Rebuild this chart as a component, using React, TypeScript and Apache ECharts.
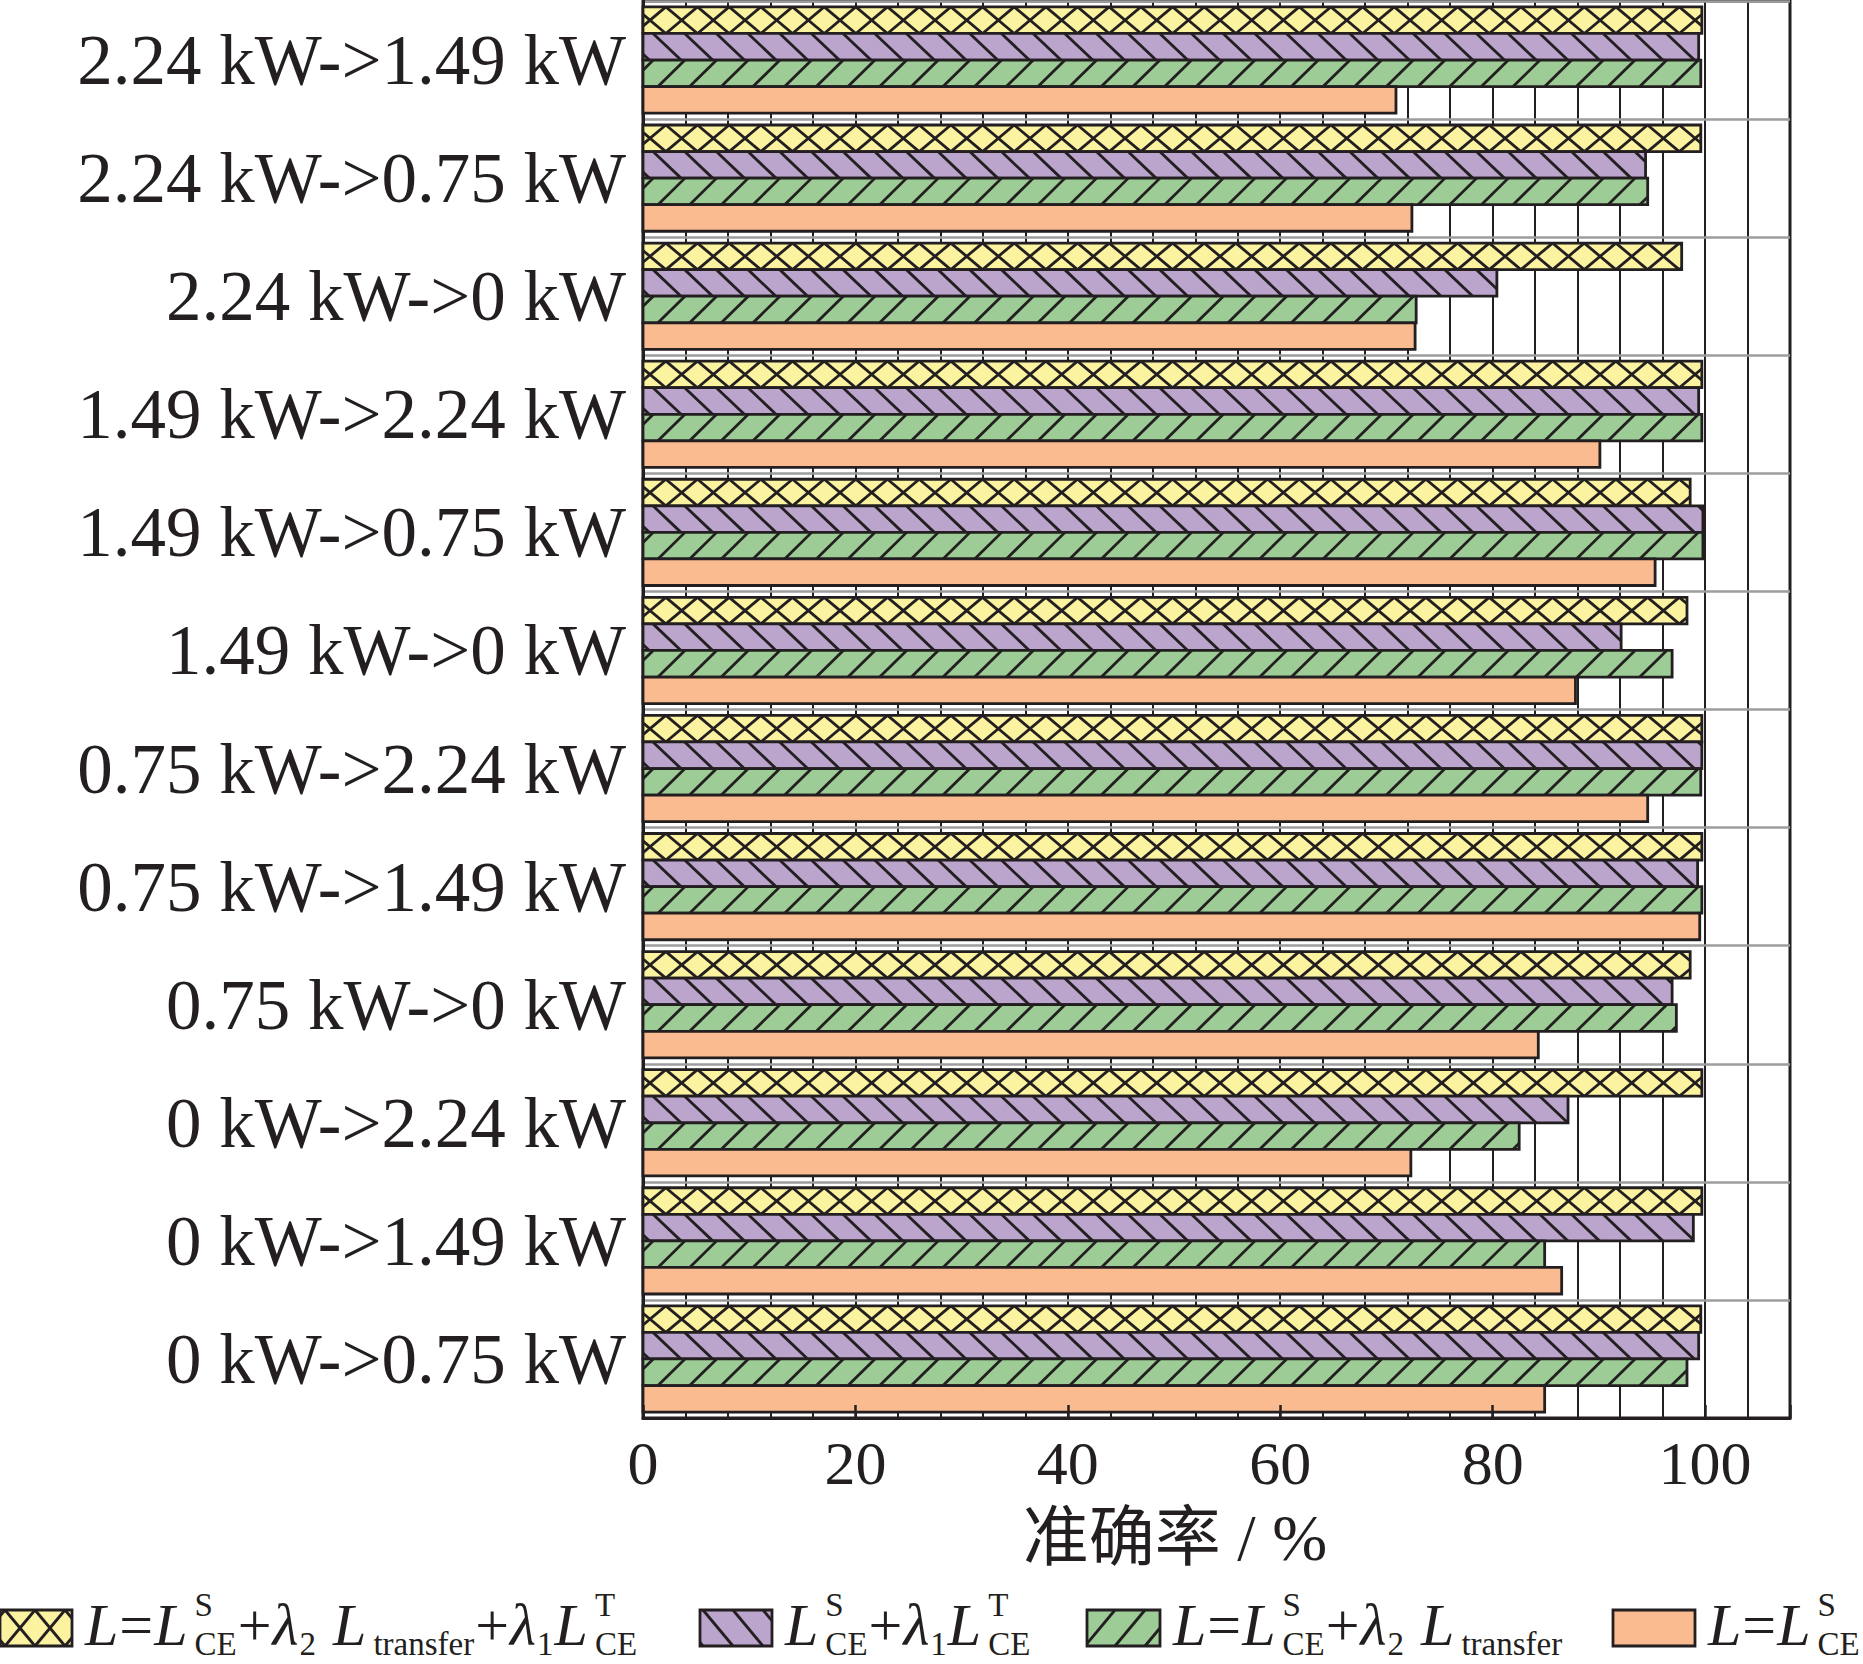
import React, { useEffect, useRef } from 'react';
import * as echarts from 'echarts';

// ---------------- data ----------------
const categories = [
  '2.24 kW->1.49 kW',
  '2.24 kW->0.75 kW',
  '2.24 kW->0 kW',
  '1.49 kW->2.24 kW',
  '1.49 kW->0.75 kW',
  '1.49 kW->0 kW',
  '0.75 kW->2.24 kW',
  '0.75 kW->1.49 kW',
  '0.75 kW->0 kW',
  '0 kW->2.24 kW',
  '0 kW->1.49 kW',
  '0 kW->0.75 kW',
];

// L = L^S_CE + λ2 L_transfer + λ1 L^T_CE
const fullLoss = [99.7, 99.6, 97.8, 99.7, 98.6, 98.3, 99.7, 99.7, 98.6, 99.7, 99.7, 99.6];
// L^S_CE + λ1 L^T_CE
const noTransfer = [99.4, 94.4, 80.4, 99.4, 99.8, 92.1, 99.7, 99.3, 96.9, 87.1, 98.9, 99.4];
// L = L^S_CE + λ2 L_transfer
const noTargetCE = [99.6, 94.6, 72.8, 99.7, 99.8, 96.9, 99.6, 99.7, 97.3, 82.5, 84.9, 98.3];
// L = L^S_CE
const sourceOnly = [70.9, 72.4, 72.7, 90.1, 95.3, 87.8, 94.6, 99.5, 84.3, 72.3, 86.5, 84.9];

const seriesNames = [
  'L=L^S_CE+λ2 L_transfer+λ1 L^T_CE',
  'L^S_CE+λ1 L^T_CE',
  'L=L^S_CE+λ2 L_transfer',
  'L=L^S_CE',
];
const seriesValues = [fullLoss, noTransfer, noTargetCE, sourceOnly];
const xLabelValues = [0, 20, 40, 60, 80, 100];
const axisTitle = '准确率 / %';

// legend texts: i = italic main, r = regular main, s = [superscript, subscript]
const legendTokens = [
  [['i', 'L'], ['r', '='], ['i', 'L'], ['s', 'S', 'CE'], ['r', '+'], ['i', 'λ'], ['s', '', '2'], ['r', ' '], ['i', 'L'], ['s', '', 'transfer'], ['r', '+'], ['i', 'λ'], ['s', '', '1'], ['i', 'L'], ['s', 'T', 'CE']],
  [['i', 'L'], ['s', 'S', 'CE'], ['r', '+'], ['i', 'λ'], ['s', '', '1'], ['i', 'L'], ['s', 'T', 'CE']],
  [['i', 'L'], ['r', '='], ['i', 'L'], ['s', 'S', 'CE'], ['r', '+'], ['i', 'λ'], ['s', '', '2'], ['r', ' '], ['i', 'L'], ['s', '', 'transfer']],
  [['i', 'L'], ['r', '='], ['i', 'L'], ['s', 'S', 'CE']],
];

// ---------------- style ----------------
const W = 1863;
const H = 1664;
const SERIF = '"Liberation Serif", "Times New Roman", serif';
const INK = '#231F20';
const fills = ['#FBF3A0', '#BBA5CC', '#9DCC96', '#F9BB8F'];
const hatchKinds = ['cross', 'back', 'fwd', 'none'];
const GRID = { left: 643, top: 1, width: 1147, height: 1417 };
const GROUP_FRACTION = 0.9;
const BAR_P = 31.67;
const barOffsets = [7, 10, 10.3, 0];
const barSpans = [0, 28, 27, 0];
const LW = 2.8;

const legendIconX = [0, 700, 1087, 1613];
const legendIconW = [72, 72, 73, 82];
const ICON_Y = 1610;
const ICON_H = 36;
const iconOffsets = [20, 3, 28, 0];
const MAIN_FS = 60;
const SCRIPT_FS = 33;
const MAIN_BASE = 1645;
const SUP_BASE = 1616;
const SUB_BASE = 1655;

// ---------------- hatch helpers ----------------
function familySegs(L: number, R: number, top: number, h: number, firstTop: number, P: number, d: number) {
  const segs: number[][] = [];
  const span = Math.abs(d);
  const kStart = Math.floor((L - span - firstTop) / P) - 1;
  const kEnd = Math.ceil((R + span - firstTop) / P) + 1;
  for (let k = kStart; k <= kEnd; k++) {
    const t = firstTop + k * P;
    let u0 = 0;
    let u1 = 1;
    if (d > 0) {
      u0 = Math.max(u0, (L - t) / d);
      u1 = Math.min(u1, (R - t) / d);
    } else {
      u0 = Math.max(u0, (R - t) / d);
      u1 = Math.min(u1, (L - t) / d);
    }
    if (u1 - u0 > 1e-3) segs.push([t + d * u0, top + h * u0, t + d * u1, top + h * u1]);
  }
  return segs;
}

function hatchSegs(kind: string, L: number, R: number, top: number, h: number, P: number, off: number, span: number) {
  if (kind === 'cross') {
    const c0 = L + off;
    return [...familySegs(L, R, top, h, c0 - P / 2, P, P), ...familySegs(L, R, top, h, c0 + P / 2, P, -P)];
  }
  if (kind === 'back') return familySegs(L, R, top, h, L + off, P, span);
  if (kind === 'fwd') return familySegs(L, R, top, h, L + off, P, -span);
  return [];
}

function lineEls(segs: number[][]) {
  return segs.map((s) => ({
    type: 'line',
    shape: { x1: s[0], y1: s[1], x2: s[2], y2: s[3] },
    style: { stroke: INK, lineWidth: LW, lineCap: 'butt' },
  }));
}

const makeRender = (si: number) => (params: any, api: any) => {
  const value = api.value(0);
  const cat = api.value(1);
  const p0 = api.coord([0, cat]);
  const p1 = api.coord([value, cat]);
  const band = api.size([0, 1])[1];
  const groupH = band * GROUP_FRACTION;
  const barH = groupH / seriesValues.length;
  const top = p0[1] - groupH / 2 + si * barH;
  const x0 = p0[0];
  const x1 = p1[0];
  const segs = hatchSegs(hatchKinds[si], x0, x1, top, barH, BAR_P, barOffsets[si], barSpans[si]);
  return {
    type: 'group',
    children: [
      { type: 'rect', shape: { x: x0, y: top, width: x1 - x0, height: barH }, style: { fill: fills[si] } },
      ...lineEls(segs),
      { type: 'rect', shape: { x: x0, y: top, width: x1 - x0, height: barH }, style: { fill: 'none', stroke: INK, lineWidth: LW } },
    ],
  };
};

// ---------------- legend (graphic) ----------------
function buildLegend() {
  const ctx = document.createElement('canvas').getContext('2d') as CanvasRenderingContext2D;
  const measure = (t: string, size: number, italic: boolean) => {
    ctx.font = `${italic ? 'italic ' : ''}${size}px "Liberation Serif"`;
    return ctx.measureText(t).width;
  };
  const central = (base: number, fs: number) => base - 0.3375 * fs;
  const txt = (text: string, x: number, base: number, fs: number, italic: boolean) => ({
    type: 'text',
    x,
    y: central(base, fs),
    style: {
      text,
      fontSize: fs,
      fontFamily: SERIF,
      fontStyle: italic ? 'italic' : 'normal',
      fill: INK,
      align: 'left',
      textAlign: 'left',
      verticalAlign: 'middle',
      textVerticalAlign: 'middle',
    },
  });
  const els: any[] = [];
  legendTokens.forEach((tokens, ei) => {
    const ix = legendIconX[ei];
    const iw = legendIconW[ei];
    els.push({ type: 'rect', shape: { x: ix, y: ICON_Y, width: iw, height: ICON_H }, style: { fill: fills[ei] } });
    els.push(...lineEls(hatchSegs(hatchKinds[ei], ix, ix + iw, ICON_Y, ICON_H, 30, iconOffsets[ei], 30)));
    els.push({ type: 'rect', shape: { x: ix, y: ICON_Y, width: iw, height: ICON_H }, style: { fill: 'none', stroke: INK, lineWidth: LW } });
    let pen = ix + iw + 13;
    let prev: string[] | null = null;
    tokens.forEach((tk) => {
      const kind = tk[0];
      if (prev) pen += kind === 's' && prev[0] === 'i' && prev[1] === 'L' ? 7 : 1;
      if (kind === 's') {
        const sup = tk[1];
        const sub = tk[2] || '';
        let w = 0;
        if (sup) {
          els.push(txt(sup, pen, SUP_BASE, SCRIPT_FS, false));
          w = Math.max(w, measure(sup, SCRIPT_FS, false));
        }
        if (sub) {
          els.push(txt(sub, pen, SUB_BASE, SCRIPT_FS, false));
          w = Math.max(w, measure(sub, SCRIPT_FS, false));
        }
        pen += w;
      } else {
        const it = kind === 'i';
        if (tk[1] !== ' ') els.push(txt(tk[1], pen, MAIN_BASE, MAIN_FS, it));
        pen += measure(tk[1], MAIN_FS, it);
      }
      prev = tk;
    });
  });
  return els;
}

// ---------------- component ----------------
export default function App() {
  const ref = useRef<HTMLDivElement>(null);
  useEffect(() => {
    document.body.style.margin = '0';
    if (!ref.current) return;
    const chart = echarts.init(ref.current, null, { renderer: 'svg', width: W, height: H });
    const baseX = { type: 'value', min: 0, max: 108, gridIndex: 0, position: 'bottom' };
    const option: any = {
      animation: false,
      backgroundColor: '#ffffff',
      grid: { ...GRID, show: true, borderColor: INK, borderWidth: 3, backgroundColor: 'transparent', containLabel: false },
      xAxis: [
        {
          ...baseX,
          interval: 4,
          axisLine: { show: false },
          axisTick: { show: false },
          axisLabel: { show: false },
          splitLine: { show: true, lineStyle: { color: INK, width: 2 } },
          z: 0,
        },
        {
          ...baseX,
          interval: 4,
          axisLine: { show: false },
          axisTick: { show: true, inside: true, length: 6, lineStyle: { color: INK, width: 2 } },
          axisLabel: { show: false },
          splitLine: { show: false },
          z: 10,
        },
        {
          ...baseX,
          interval: 20,
          axisLine: { show: true, lineStyle: { color: INK, width: 3 } },
          axisTick: { show: true, inside: true, length: 13, lineStyle: { color: INK, width: 2.5 } },
          axisLabel: {
            show: true,
            margin: 14,
            fontSize: 62,
            fontFamily: SERIF,
            color: INK,
            formatter: (v: number) => (xLabelValues.indexOf(v) >= 0 ? String(v) : ''),
          },
          splitLine: { show: false },
          z: 10,
        },
      ],
      yAxis: {
        type: 'category',
        data: categories,
        inverse: true,
        axisLine: { show: true, lineStyle: { color: INK, width: 3 } },
        axisTick: { show: false },
        axisLabel: { fontSize: 71, fontFamily: SERIF, color: INK, margin: 17 },
        splitLine: { show: true, lineStyle: { color: '#9d9d9d', width: 2.6 } },
        z: 1,
      },
      series: seriesValues.map((vals, si) => ({
        type: 'custom',
        name: seriesNames[si],
        xAxisIndex: 0,
        yAxisIndex: 0,
        encode: { x: 0, y: 1 },
        data: vals.map((v, i) => [v, i]),
        renderItem: makeRender(si),
        z: 3,
      })),
      graphic: [
        {
          type: 'text',
          x: 1175,
          y: 1537,
          style: {
            text: axisTitle,
            fontSize: 66,
            fontFamily: '"Liberation Serif", "Noto Sans CJK SC", serif',
            fill: INK,
            align: 'center',
            textAlign: 'center',
            verticalAlign: 'middle',
            textVerticalAlign: 'middle',
          },
        },
        ...buildLegend(),
      ],
    };
    chart.setOption(option);
    return () => chart.dispose();
  }, []);
  return <div ref={ref} style={{ width: W, height: H, position: 'absolute', left: 0, top: 0 }} />;
}
